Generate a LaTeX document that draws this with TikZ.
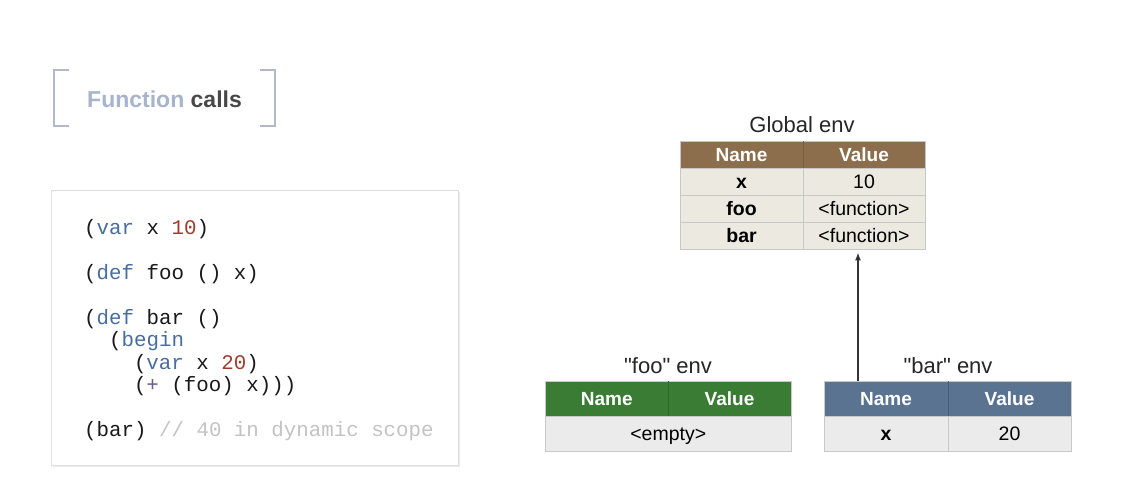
\documentclass[tikz,border=0pt]{standalone}
\usepackage{fontspec}
\setmainfont{Liberation Sans}
\setmonofont{Liberation Mono}
\usetikzlibrary{arrows.meta}
\definecolor{brownhd}{RGB}{140,110,76}
\definecolor{beigerow}{RGB}{236,233,225}
\definecolor{greenhd}{RGB}{58,124,52}
\definecolor{bluehd}{RGB}{90,115,145}
\definecolor{grayrow}{RGB}{235,235,235}
\definecolor{cellline}{RGB}{200,200,200}
\definecolor{brk}{RGB}{178,186,202}
\definecolor{fnblue}{RGB}{168,180,204}
\definecolor{callsgray}{RGB}{72,72,72}
\definecolor{kwblue}{RGB}{72,110,158}
\definecolor{numred}{RGB}{160,60,45}
\definecolor{cmtgray}{RGB}{195,195,195}
\definecolor{pluspurple}{RGB}{105,90,150}
\newcommand{\kw}[1]{\textcolor{kwblue}{#1}}
\newcommand{\nm}[1]{\textcolor{numred}{#1}}
\newcommand{\dq}{\XeTeXglyph\XeTeXcharglyph"22\relax}
\begin{document}
\begin{tikzpicture}[x=1pt,y=-1pt,
  cell/.style={rectangle, draw=cellline, line width=0.8pt, inner sep=0pt,
     minimum height=#1, text height=14pt, text depth=0pt,
     font=\fontsize{19.5}{22}\selectfont},
  cell/.default=27pt,
  hdr/.style={cell=#1, text=white, font=\fontsize{19}{22}\selectfont\bfseries},
  hdr/.default=27pt,
  envtitle/.style={inner sep=0pt, font=\fontsize{22}{26}\selectfont, text=black!85},
  codeline/.style={inner sep=0pt, anchor=base west, font=\fontsize{20.8}{24}\selectfont\ttfamily, text=black!90},
  bracket/.style={draw=brk, line width=2pt},
  ptr/.style={draw=black!80, line width=1.5pt, -{Latex[length=8pt,width=6pt]}}
]
\useasboundingbox[fill=white] (0,0) rectangle (1132,500);

% title
\draw[bracket] (69,70) -- (54,70) -- (54,126) -- (69,126);
\draw[bracket] (260,70) -- (275,70) -- (275,126) -- (260,126);
\node[inner sep=0pt, anchor=west, font=\fontsize{23}{26}\selectfont\bfseries] (title) at (87,99)
  {\textcolor{fnblue}{Function} \textcolor{callsgray}{calls}};

% code box
\fill[black, opacity=0.08] (53,192) rectangle (460,467);
\draw[fill=white, draw={rgb,255:red,222;green,222;blue,222}, line width=0.8pt] (51,190) rectangle (458,465);
\node[codeline] (c1) at (84,234) {(\kw{var} x \nm{10})};
\node[codeline] (c2) at (84,279) {(\kw{def} foo () x)};
\node[codeline] (c3) at (84,324) {(\kw{def} bar ()};
\node[codeline] (c4) at (108.9,346) {(\kw{begin}};
\node[codeline] (c5) at (133.8,369) {(\kw{var} x \nm{20})};
\node[codeline] (c6) at (133.8,391) {(\textcolor{pluspurple}{+} (foo) x)))};
\node[codeline] (c7) at (84,436) {(bar) \textcolor{cmtgray}{// 40 in dynamic scope}};

% Global env
\node[envtitle] (gtitle) at (802,125) {Global env};
\node[hdr, fill=brownhd, minimum width=123pt] (gN) at (741.5,154.5) {Name};
\node[hdr, fill=brownhd, minimum width=122pt] (gV) at (864,154.5) {Value};
\node[cell, fill=beigerow, minimum width=123pt, font=\fontsize{19.5}{22}\selectfont\bfseries] (gxN) at (741.5,181.5) {x};
\node[cell, fill=beigerow, minimum width=122pt] (gxV) at (864,181.5) {10};
\node[cell, fill=beigerow, minimum width=123pt, font=\fontsize{19.5}{22}\selectfont\bfseries] (gfN) at (741.5,208.5) {foo};
\node[cell, fill=beigerow, minimum width=122pt] (gfV) at (864,208.5) {<function>};
\node[cell, fill=beigerow, minimum width=123pt, font=\fontsize{19.5}{22}\selectfont\bfseries] (gbN) at (741.5,235.5) {bar};
\node[cell, fill=beigerow, minimum width=122pt] (gbV) at (864,235.5) {<function>};
\draw[brownhd!85!black, line width=0.6pt] (gN.north east) -- (gN.south east);

% foo env
\node[envtitle] (ftitle) at (668,366) {\dq foo\dq{} env};
\node[hdr=35pt, fill=greenhd, minimum width=122.5pt] (fN) at (606.75,398.5) {Name};
\node[hdr=35pt, fill=greenhd, minimum width=123pt] (fV) at (729.5,398.5) {Value};
\draw[greenhd!85!black, line width=0.6pt] (fN.north east) -- (fN.south east);
\node[cell=35pt, fill=grayrow, minimum width=245.5pt] (fE) at (668.25,433.5) {<empty>};

% bar env
\node[envtitle] (btitle) at (948,366) {\dq bar\dq{} env};
\node[hdr=35pt, fill=bluehd, minimum width=124pt] (bN) at (886,398.5) {Name};
\node[hdr=35pt, fill=bluehd, minimum width=123pt] (bV) at (1009.5,398.5) {Value};
\draw[bluehd!80!black, line width=0.6pt] (bN.north east) -- (bN.south east);
\node[cell=35pt, fill=grayrow, minimum width=124pt, font=\fontsize{19.5}{22}\selectfont\bfseries] (bxN) at (886,433.5) {x};
\node[cell=35pt, fill=grayrow, minimum width=123pt] (bxV) at (1009.5,433.5) {20};

% pointer from bar env to global env
\coordinate (ax) at (858,0);
\draw[ptr, shorten >=3pt] (bN.north -| ax) -- (gbV.south -| ax);
\end{tikzpicture}
\end{document}
